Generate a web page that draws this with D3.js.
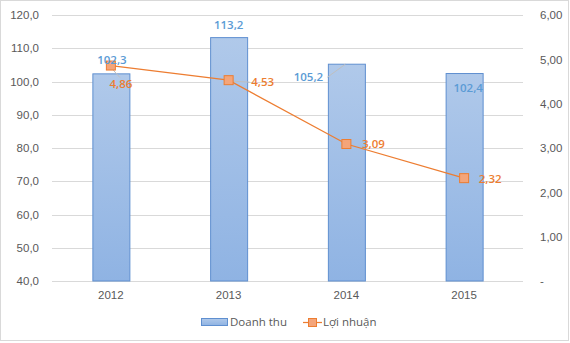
<!DOCTYPE html>
<html><head><meta charset="utf-8">
<script src="https://cdn.jsdelivr.net/npm/d3@7/dist/d3.min.js"></script>
<style>body{margin:0;background:#fff}svg{display:block;font-family:"Open Sans","Noto Sans",sans-serif}</style>
</head><body><svg id="c" width="570" height="343"></svg>
<script>
const years = ["2012","2013","2014","2015"];
const doanhThu = [102.3,113.2,105.2,102.4];
const loiNhuan = [4.86,4.53,3.09,2.32];
const leftTicks = [40,50,60,70,80,90,100,110,120];
const rightTicks = [0,1,2,3,4,5,6];
const fmt1 = d => d.toFixed(1).replace(".", ",");
const fmt2 = d => d === 0 ? "-" : d.toFixed(2).replace(".", ",");

const svg = d3.select("#c");
const L = 52, R = 523, T = 15, B = 281;
const x = d3.scaleBand().domain(years).range([L, R]);
const y = d3.scaleLinear().domain([40,120]).range([B, T]);
const y2 = d3.scaleLinear().domain([0,6]).range([B, T]);

svg.append("rect").attr("x",0.5).attr("y",0.5).attr("width",568).attr("height",340).attr("fill","#fff").attr("stroke","#d9d9d9");

const defs = svg.append("defs");
const g = defs.append("linearGradient").attr("id","bg").attr("x1",0).attr("y1",0).attr("x2",0).attr("y2",1);
g.append("stop").attr("offset","0%").attr("stop-color","#b0c9ea");
g.append("stop").attr("offset","100%").attr("stop-color","#8fb3e3");

// gridlines
svg.append("g").selectAll("line").data(leftTicks).join("line")
  .attr("x1",L).attr("x2",R).attr("y1",d=>Math.round(y(d))+0.5).attr("y2",d=>Math.round(y(d))+0.5)
  .attr("stroke","#d9d9d9").attr("stroke-width",1);

// left axis
const ax = svg.append("g").attr("transform",`translate(${L-13},0)`)
  .call(d3.axisLeft(y).tickValues(leftTicks).tickFormat(fmt1).tickSize(0).tickPadding(0));
ax.select(".domain").remove();
ax.selectAll("text").attr("fill","#595959").style("font-size","11.5px");

// right axis
const ax2 = svg.append("g").attr("transform",`translate(${R+17},0)`)
  .call(d3.axisRight(y2).tickValues(rightTicks).tickFormat(fmt2).tickSize(0).tickPadding(0));
ax2.select(".domain").remove();
ax2.selectAll("text").attr("fill","#595959").style("font-size","11.5px");

// x axis labels
const ax3 = svg.append("g").attr("transform",`translate(0,${B+10})`)
  .call(d3.axisBottom(x).tickSize(0).tickPadding(0));
ax3.select(".domain").remove();
ax3.selectAll("text").attr("fill","#595959").style("font-size","11.5px");

// bars
const bw = 37;
svg.append("g").selectAll("rect").data(years).join("rect")
  .attr("x",d=>x(d)+x.bandwidth()/2-bw/2+0.5)
  .attr("y",(d,i)=>y(doanhThu[i]))
  .attr("width",bw)
  .attr("height",(d,i)=>B-y(doanhThu[i]))
  .attr("fill","url(#bg)").attr("stroke","#5f8fd0").attr("stroke-width",1);

// line
const cx = d => x(d)+x.bandwidth()/2;
svg.append("path").datum(years)
  .attr("d", d3.line().x(d=>cx(d)).y((d,i)=>y2(loiNhuan[i])))
  .attr("fill","none").attr("stroke","#ed7d31").attr("stroke-width",1.25);

// leader lines
const leaders = [
  [cx("2012")+1, y2(loiNhuan[0])+3, cx("2012")+9, y2(loiNhuan[0])+12],
  [cx("2013")+4, y2(loiNhuan[1])+1, cx("2013")+21, y2(loiNhuan[1])+2],
  [cx("2014")-19, y(doanhThu[2])+13, cx("2014")-1, y(doanhThu[2])]
];
svg.append("g").selectAll("line").data(leaders).join("line")
  .attr("x1",d=>d[0]).attr("y1",d=>d[1]).attr("x2",d=>d[2]).attr("y2",d=>d[3])
  .attr("stroke","#bfbfbf").attr("stroke-width",1);

// markers
svg.append("g").selectAll("rect").data(years).join("rect")
  .attr("x",d=>cx(d)-4.5).attr("y",(d,i)=>y2(loiNhuan[i])-4.5)
  .attr("width",9).attr("height",9)
  .attr("fill","#f4a57a").attr("stroke","#ed7d31").attr("stroke-width",1);

// data labels for bars
const dtOff = [[1,-10],[0,-9],[-38,17],[4,18]];
svg.append("g").selectAll("text").data(years).join("text")
  .attr("x",(d,i)=>cx(d)+dtOff[i][0]).attr("y",(d,i)=>y(doanhThu[i])+dtOff[i][1])
  .attr("text-anchor","middle").attr("fill","#5b9bd5").style("font-size","11.5px").style("font-weight","600")
  .text((d,i)=>fmt1(doanhThu[i]));

// data labels for line
const lnOff = [[10,22],[34,6],[27,4],[26,5]];
svg.append("g").selectAll("text").data(years).join("text")
  .attr("x",(d,i)=>cx(d)+lnOff[i][0]).attr("y",(d,i)=>y2(loiNhuan[i])+lnOff[i][1])
  .attr("text-anchor","middle").attr("fill","#ed7d31").style("font-size","11.5px").style("font-weight","600")
  .text((d,i)=>fmt2(loiNhuan[i]));

// legend
const lg = svg.append("g");
lg.append("rect").attr("x",201.5).attr("y",318.5).attr("width",26).attr("height",7)
  .attr("fill","url(#bg)").attr("stroke","#5f8fd0");
lg.append("text").attr("x",230).attr("y",326).attr("fill","#595959").style("font-size","11.5px").text("Doanh thu");
lg.append("line").attr("x1",303).attr("x2",322).attr("y1",322.5).attr("y2",322.5).attr("stroke","#ed7d31").attr("stroke-width",1.25);
lg.append("rect").attr("x",308.5).attr("y",318.5).attr("width",8).attr("height",8).attr("fill","#f4a57a").attr("stroke","#ed7d31");
lg.append("text").attr("x",323).attr("y",326).attr("fill","#595959").style("font-size","11.5px").text("Lợi nhuận");
</script></body></html>
